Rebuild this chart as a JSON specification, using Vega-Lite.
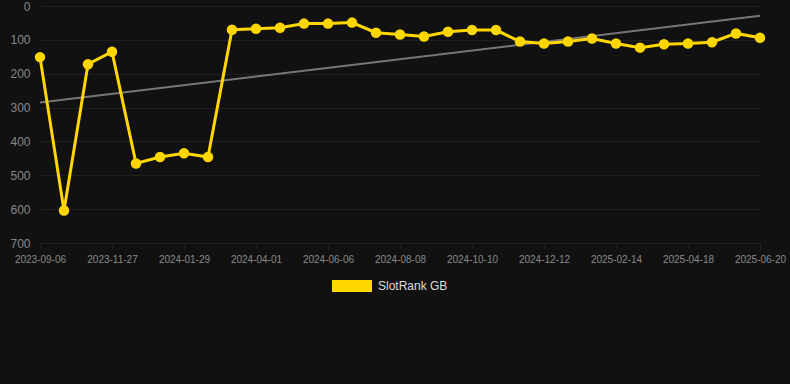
{
  "$schema": "https://vega.github.io/schema/vega-lite/v6.json",
  "width": 720,
  "height": 237,
  "autosize": {"type": "none"},
  "padding": {"left": 40, "top": 6, "right": 30, "bottom": 141},
  "background": "#111111",
  "config": {
    "view": {"stroke": null},
    "font": "Liberation Sans",
    "axis": {
      "gridColor": "#202020",
      "gridWidth": 1,
      "domain": false,
      "tickColor": "#202020",
      "labelColor": "#888888"
    }
  },
  "datasets": {
    "rank": [
      {"date": "2023-09-06", "rank": 151, "series": "SlotRank GB"},
      {"date": "2023-10-03", "rank": 604, "series": "SlotRank GB"},
      {"date": "2023-10-30", "rank": 172, "series": "SlotRank GB"},
      {"date": "2023-11-27", "rank": 135, "series": "SlotRank GB"},
      {"date": "2023-12-18", "rank": 465, "series": "SlotRank GB"},
      {"date": "2024-01-08", "rank": 446, "series": "SlotRank GB"},
      {"date": "2024-01-29", "rank": 435, "series": "SlotRank GB"},
      {"date": "2024-02-19", "rank": 446, "series": "SlotRank GB"},
      {"date": "2024-03-11", "rank": 70, "series": "SlotRank GB"},
      {"date": "2024-04-01", "rank": 67, "series": "SlotRank GB"},
      {"date": "2024-04-23", "rank": 64, "series": "SlotRank GB"},
      {"date": "2024-05-15", "rank": 52, "series": "SlotRank GB"},
      {"date": "2024-06-06", "rank": 52, "series": "SlotRank GB"},
      {"date": "2024-06-27", "rank": 49, "series": "SlotRank GB"},
      {"date": "2024-07-18", "rank": 79, "series": "SlotRank GB"},
      {"date": "2024-08-08", "rank": 84, "series": "SlotRank GB"},
      {"date": "2024-08-29", "rank": 90, "series": "SlotRank GB"},
      {"date": "2024-09-19", "rank": 76, "series": "SlotRank GB"},
      {"date": "2024-10-10", "rank": 71, "series": "SlotRank GB"},
      {"date": "2024-10-31", "rank": 71, "series": "SlotRank GB"},
      {"date": "2024-11-21", "rank": 105, "series": "SlotRank GB"},
      {"date": "2024-12-12", "rank": 111, "series": "SlotRank GB"},
      {"date": "2025-01-02", "rank": 105, "series": "SlotRank GB"},
      {"date": "2025-01-24", "rank": 96, "series": "SlotRank GB"},
      {"date": "2025-02-14", "rank": 111, "series": "SlotRank GB"},
      {"date": "2025-03-07", "rank": 123, "series": "SlotRank GB"},
      {"date": "2025-03-28", "rank": 113, "series": "SlotRank GB"},
      {"date": "2025-04-18", "rank": 111, "series": "SlotRank GB"},
      {"date": "2025-05-09", "rank": 107, "series": "SlotRank GB"},
      {"date": "2025-05-30", "rank": 81, "series": "SlotRank GB"},
      {"date": "2025-06-20", "rank": 94, "series": "SlotRank GB"}
    ],
    "trend": [
      {"date": "2023-09-06", "rank": 285},
      {"date": "2025-06-20", "rank": 29}
    ]
  },
  "encoding": {
    "x": {
      "field": "date",
      "type": "ordinal",
      "scale": {"type": "point", "padding": 0},
      "axis": {
        "title": null,
        "labelAngle": 0,
        "labelFontSize": 10,
        "tickSize": 6,
        "labelPadding": 5,
        "values": ["2023-09-06", "2023-11-27", "2024-01-29", "2024-04-01", "2024-06-06", "2024-08-08", "2024-10-10", "2024-12-12", "2025-02-14", "2025-04-18", "2025-06-20"]
      }
    },
    "y": {
      "field": "rank",
      "type": "quantitative",
      "scale": {"domain": [0, 700], "reverse": true, "nice": false},
      "axis": {
        "title": null,
        "values": [0, 100, 200, 300, 400, 500, 600, 700],
        "labelFontSize": 12,
        "ticks": false,
        "labelPadding": 10
      }
    }
  },
  "layer": [
    {
      "data": {"name": "trend"},
      "mark": {"type": "line", "color": "#777777", "strokeWidth": 2}
    },
    {
      "data": {"name": "rank"},
      "mark": {"type": "line", "color": "#FFD700", "strokeWidth": 3}
    },
    {
      "data": {"name": "rank"},
      "mark": {"type": "point", "filled": true, "size": 110, "opacity": 1},
      "encoding": {
        "color": {
          "field": "series",
          "type": "nominal",
          "scale": {"range": ["#FFD700"]},
          "legend": {
            "title": null,
            "orient": "none",
            "legendX": 292,
            "legendY": 260,
            "symbolType": "M-1,-0.3H1V0.3H-1Z",
            "symbolSize": 1600,
            "symbolStrokeWidth": 0,
            "symbolOpacity": 1,
            "labelColor": "#dddddd",
            "labelFontSize": 12,
            "labelOffset": 6
          }
        }
      }
    }
  ]
}
